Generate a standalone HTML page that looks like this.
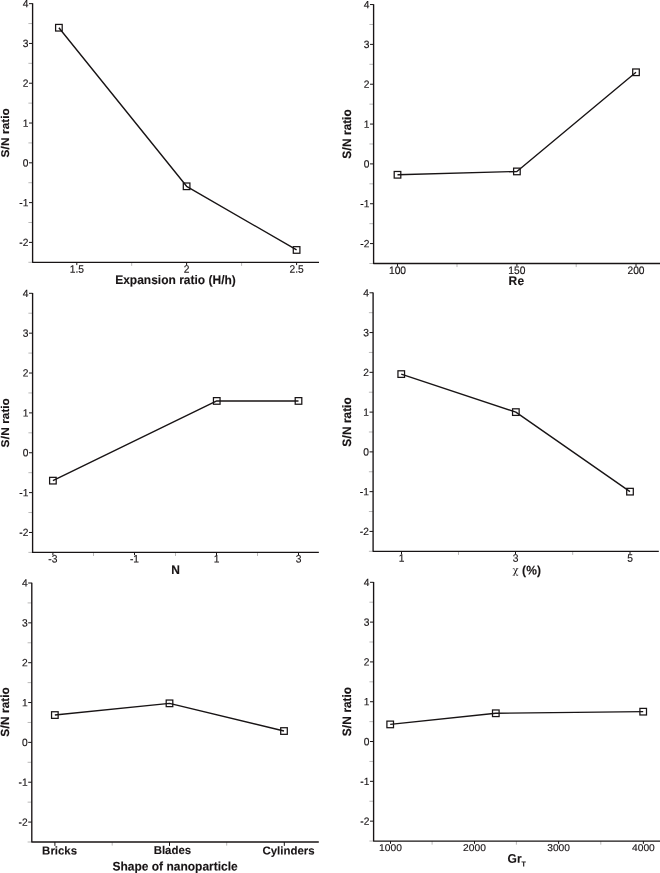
<!DOCTYPE html>
<html><head><meta charset="utf-8"><title>S/N ratio plots</title>
<style>
html,body{margin:0;padding:0;background:#fff;overflow:hidden}
svg{display:block}
text{font-family:"Liberation Sans",Arial,Helvetica,sans-serif;fill:#181415;stroke:#181415;stroke-width:.2px;text-rendering:geometricPrecision}
.t{font-size:10.25px;stroke-width:.15px}
.b{font-size:12px;font-weight:bold;stroke-width:.12px}
.yl{stroke-width:.16px;font-size:11.8px}
.tb{font-size:11.45px;font-weight:bold;stroke-width:.1px}
.ax{stroke:#181415;stroke-width:1.35;fill:none;stroke-linejoin:round}
.mj{stroke:#181415;stroke-width:1;fill:none}
.mn{stroke:#181415;stroke-width:0.5;fill:none;opacity:.6}
.ln{stroke:#181415;stroke-width:1.4;fill:none;stroke-linejoin:round}
.mk{stroke:#181415;stroke-width:1.25;fill:none}
</style></head><body>
<svg width="660" height="873" viewBox="0 0 660 873">
<rect width="660" height="873" fill="#fff"/>
<g>
<path class="ax" d="M32.6 3.35 V262.3 H319"/>
<path class="mj" d="M29 242.4H32.6M29 202.61H32.6M29 162.82H32.6M29 123.03H32.6M29 83.23H32.6M29 43.44H32.6M29 3.65H32.6"/>
<path class="mn" d="M28.4 262.3H32.6M28.4 222.51H32.6M28.4 182.72H32.6M28.4 142.92H32.6M28.4 103.13H32.6M28.4 63.34H32.6M28.4 23.55H32.6"/>
<text class="t" transform="translate(28.4 246) rotate(.03) scale(1 1.025)" text-anchor="end">-2</text>
<text class="t" transform="translate(28.4 206.21) rotate(.03) scale(1 1.025)" text-anchor="end">-1</text>
<text class="t" transform="translate(28.4 166.42) rotate(.03) scale(1 1.025)" text-anchor="end">0</text>
<text class="t" transform="translate(28.4 126.63) rotate(.03) scale(1 1.025)" text-anchor="end">1</text>
<text class="t" transform="translate(28.4 86.83) rotate(.03) scale(1 1.025)" text-anchor="end">2</text>
<text class="t" transform="translate(28.4 47.04) rotate(.03) scale(1 1.025)" text-anchor="end">3</text>
<text class="t" transform="translate(28.4 7.25) rotate(.03) scale(1 1.025)" text-anchor="end">4</text>
<path class="mj" d="M76.8 262.3V265.1M186.6 262.3V265.1M296.6 262.3V265.1"/>
<path class="mn" d="M131.7 262.3V265.9M241.6 262.3V265.9"/>
<text class="t" transform="translate(76.8 272.85) rotate(.03) scale(1 1.06)" text-anchor="middle">1.5</text>
<text class="t" transform="translate(186.6 272.85) rotate(.03) scale(1 1.06)" text-anchor="middle">2</text>
<text class="t" transform="translate(296.6 272.85) rotate(.03) scale(1 1.06)" text-anchor="middle">2.5</text>
<text class="b" transform="translate(175.5 284.1) rotate(.03) scale(1 1.04)" text-anchor="middle">Expansion ratio (H/h)</text>
<text class="b yl" transform="translate(9.45 132.98) rotate(-90) scale(1 0.95)" text-anchor="middle"><tspan letter-spacing=".25">S/N</tspan> ratio</text>
<polyline class="ln" points="58.9,27.72 186.6,186.3 296.6,249.96"/>
<rect class="mk" x="55.6" y="24.42" width="6.6" height="6.6"/>
<rect class="mk" x="183.3" y="183" width="6.6" height="6.6"/>
<rect class="mk" x="293.3" y="246.66" width="6.6" height="6.6"/>
</g>
<g>
<path class="ax" d="M373.6 4.25 V263.5 H660"/>
<path class="mj" d="M370 243.58H373.6M370 203.74H373.6M370 163.9H373.6M370 124.07H373.6M370 84.23H373.6M370 44.39H373.6M370 4.55H373.6"/>
<path class="mn" d="M369.4 263.5H373.6M369.4 223.66H373.6M369.4 183.82H373.6M369.4 143.98H373.6M369.4 104.15H373.6M369.4 64.31H373.6M369.4 24.47H373.6"/>
<text class="t" transform="translate(369.4 247.18) rotate(.03) scale(1 1.025)" text-anchor="end">-2</text>
<text class="t" transform="translate(369.4 207.34) rotate(.03) scale(1 1.025)" text-anchor="end">-1</text>
<text class="t" transform="translate(369.4 167.5) rotate(.03) scale(1 1.025)" text-anchor="end">0</text>
<text class="t" transform="translate(369.4 127.67) rotate(.03) scale(1 1.025)" text-anchor="end">1</text>
<text class="t" transform="translate(369.4 87.83) rotate(.03) scale(1 1.025)" text-anchor="end">2</text>
<text class="t" transform="translate(369.4 47.99) rotate(.03) scale(1 1.025)" text-anchor="end">3</text>
<text class="t" transform="translate(369.4 8.15) rotate(.03) scale(1 1.025)" text-anchor="end">4</text>
<path class="mj" d="M397.5 263.5V266.3M516.9 263.5V266.3M636 263.5V266.3"/>
<path class="mn" d="M457 263.5V267.1M576.2 263.5V267.1"/>
<text class="t" transform="translate(397.5 274.05) rotate(.03) scale(1 1.06)" text-anchor="middle">100</text>
<text class="t" transform="translate(516.9 274.05) rotate(.03) scale(1 1.06)" text-anchor="middle">150</text>
<text class="t" transform="translate(636 274.05) rotate(.03) scale(1 1.06)" text-anchor="middle">200</text>
<text class="b" transform="translate(516.6 285.1) rotate(.03) scale(1 1.04)" text-anchor="middle" letter-spacing="0.5">Re</text>
<text class="b yl" transform="translate(351.25 134.03) rotate(-90) scale(1 1.03)" text-anchor="middle"><tspan letter-spacing=".25">S/N</tspan> ratio</text>
<polyline class="ln" points="397.5,174.78 516.9,171.43 636,72.28"/>
<rect class="mk" x="394.2" y="171.48" width="6.6" height="6.6"/>
<rect class="mk" x="513.6" y="168.13" width="6.6" height="6.6"/>
<rect class="mk" x="632.7" y="68.98" width="6.6" height="6.6"/>
</g>
<g>
<path class="ax" d="M32.6 293 V552.4 H318.85"/>
<path class="mj" d="M29 532.47H32.6M29 492.61H32.6M29 452.75H32.6M29 412.88H32.6M29 373.02H32.6M29 333.16H32.6M29 293.3H32.6"/>
<path class="mn" d="M28.4 552.4H32.6M28.4 512.54H32.6M28.4 472.68H32.6M28.4 432.82H32.6M28.4 392.95H32.6M28.4 353.09H32.6M28.4 313.23H32.6"/>
<text class="t" transform="translate(28.4 536.07) rotate(.03) scale(1 1.025)" text-anchor="end">-2</text>
<text class="t" transform="translate(28.4 496.21) rotate(.03) scale(1 1.025)" text-anchor="end">-1</text>
<text class="t" transform="translate(28.4 456.35) rotate(.03) scale(1 1.025)" text-anchor="end">0</text>
<text class="t" transform="translate(28.4 416.48) rotate(.03) scale(1 1.025)" text-anchor="end">1</text>
<text class="t" transform="translate(28.4 376.62) rotate(.03) scale(1 1.025)" text-anchor="end">2</text>
<text class="t" transform="translate(28.4 336.76) rotate(.03) scale(1 1.025)" text-anchor="end">3</text>
<text class="t" transform="translate(28.4 296.9) rotate(.03) scale(1 1.025)" text-anchor="end">4</text>
<path class="mj" d="M52.9 552.4V555.2M134.5 552.4V555.2M216.5 552.4V555.2M298.5 552.4V555.2"/>
<path class="mn" d="M93.5 552.4V556M175.5 552.4V556M257.5 552.4V556"/>
<text class="t" transform="translate(52.9 562.55) rotate(.03) scale(1 1.06)" text-anchor="middle">-3</text>
<text class="t" transform="translate(134.5 562.55) rotate(.03) scale(1 1.06)" text-anchor="middle">-1</text>
<text class="t" transform="translate(216.5 562.55) rotate(.03) scale(1 1.06)" text-anchor="middle">1</text>
<text class="t" transform="translate(298.5 562.55) rotate(.03) scale(1 1.06)" text-anchor="middle">3</text>
<text class="b" transform="translate(175.5 574) rotate(.03) scale(1 1.04)" text-anchor="middle">N</text>
<text class="b yl" transform="translate(9.45 422.85) rotate(-90) scale(1 0.95)" text-anchor="middle"><tspan letter-spacing=".25">S/N</tspan> ratio</text>
<polyline class="ln" points="52.9,480.65 216.75,400.93 298.5,400.93"/>
<rect class="mk" x="49.6" y="477.35" width="6.6" height="6.6"/>
<rect class="mk" x="213.45" y="397.63" width="6.6" height="6.6"/>
<rect class="mk" x="295.2" y="397.63" width="6.6" height="6.6"/>
</g>
<g>
<path class="ax" d="M373.1 292.5 V551.3 H658.8"/>
<path class="mj" d="M369.5 531.42H373.1M369.5 491.65H373.1M369.5 451.88H373.1M369.5 412.11H373.1M369.5 372.34H373.1M369.5 332.57H373.1M369.5 292.8H373.1"/>
<path class="mn" d="M368.9 551.3H373.1M368.9 511.53H373.1M368.9 471.76H373.1M368.9 431.99H373.1M368.9 392.22H373.1M368.9 352.45H373.1M368.9 312.68H373.1"/>
<text class="t" transform="translate(368.9 535.02) rotate(.03) scale(1 1.025)" text-anchor="end">-2</text>
<text class="t" transform="translate(368.9 495.25) rotate(.03) scale(1 1.025)" text-anchor="end">-1</text>
<text class="t" transform="translate(368.9 455.48) rotate(.03) scale(1 1.025)" text-anchor="end">0</text>
<text class="t" transform="translate(368.9 415.71) rotate(.03) scale(1 1.025)" text-anchor="end">1</text>
<text class="t" transform="translate(368.9 375.94) rotate(.03) scale(1 1.025)" text-anchor="end">2</text>
<text class="t" transform="translate(368.9 336.17) rotate(.03) scale(1 1.025)" text-anchor="end">3</text>
<text class="t" transform="translate(368.9 296.4) rotate(.03) scale(1 1.025)" text-anchor="end">4</text>
<path class="mj" d="M401.5 551.3V554.1M515.5 551.3V554.1M630 551.3V554.1"/>
<path class="mn" d="M458.5 551.3V554.9M572.7 551.3V554.9"/>
<text class="t" transform="translate(401.5 561.85) rotate(.03) scale(1 1.06)" text-anchor="middle">1</text>
<text class="t" transform="translate(515.5 561.85) rotate(.03) scale(1 1.06)" text-anchor="middle">3</text>
<text class="t" transform="translate(630 561.85) rotate(.03) scale(1 1.06)" text-anchor="middle">5</text>
<text class="b" transform="translate(512.4 573.4) rotate(.03)" font-weight="normal" font-family="'DejaVu Serif','Liberation Serif',serif" font-size="10" stroke="none" style="font-family:'DejaVu Serif','Liberation Serif',serif;font-size:10px;font-weight:normal;stroke:none">χ</text>
<text class="b" transform="translate(522 574.5) rotate(.03) scale(1 1.04)" letter-spacing="0.15">(%)</text>
<text class="b yl" transform="translate(351.25 422.05) rotate(-90) scale(1 1.03)" text-anchor="middle"><tspan letter-spacing=".25">S/N</tspan> ratio</text>
<polyline class="ln" points="401.25,374.09 515.85,412.11 630,491.65"/>
<rect class="mk" x="397.95" y="370.79" width="6.6" height="6.6"/>
<rect class="mk" x="512.55" y="408.81" width="6.6" height="6.6"/>
<rect class="mk" x="626.7" y="488.35" width="6.6" height="6.6"/>
</g>
<g>
<path class="ax" d="M31.8 582.7 V842 H318.8"/>
<path class="mj" d="M28.2 822.08H31.8M28.2 782.23H31.8M28.2 742.38H31.8M28.2 702.54H31.8M28.2 662.69H31.8M28.2 622.85H31.8M28.2 583H31.8"/>
<path class="mn" d="M27.6 842H31.8M27.6 802.15H31.8M27.6 762.31H31.8M27.6 722.46H31.8M27.6 682.62H31.8M27.6 642.77H31.8M27.6 602.92H31.8"/>
<text class="t" transform="translate(27.6 825.68) rotate(.03) scale(1 1.025)" text-anchor="end">-2</text>
<text class="t" transform="translate(27.6 785.83) rotate(.03) scale(1 1.025)" text-anchor="end">-1</text>
<text class="t" transform="translate(27.6 745.98) rotate(.03) scale(1 1.025)" text-anchor="end">0</text>
<text class="t" transform="translate(27.6 706.14) rotate(.03) scale(1 1.025)" text-anchor="end">1</text>
<text class="t" transform="translate(27.6 666.29) rotate(.03) scale(1 1.025)" text-anchor="end">2</text>
<text class="t" transform="translate(27.6 626.45) rotate(.03) scale(1 1.025)" text-anchor="end">3</text>
<text class="t" transform="translate(27.6 586.6) rotate(.03) scale(1 1.025)" text-anchor="end">4</text>
<path class="mj" d="M54.9 842V845.9M169.5 842V845.9M284.3 842V845.9"/>
<path class="mn" d="M112.2 842V845.6M226.7 842V845.6"/>
<text class="tb" transform="translate(59.6 854.6) rotate(.03)" text-anchor="middle">Bricks</text>
<text class="tb" transform="translate(172.4 853.95) rotate(.03)" text-anchor="middle">Blades</text>
<text class="tb" transform="translate(288.5 854.45) rotate(.03)" text-anchor="middle">Cylinders</text>
<text class="b" transform="translate(175.1 870.5) rotate(.03) scale(1 1.04)" text-anchor="middle">Shape of nanoparticle</text>
<text class="b yl" transform="translate(9.45 712) rotate(-90) scale(1 1)" text-anchor="middle"><tspan letter-spacing=".25">S/N</tspan> ratio</text>
<polyline class="ln" points="54.85,715.05 169.5,703.34 284,731.03"/>
<rect class="mk" x="51.55" y="711.75" width="6.6" height="6.6"/>
<rect class="mk" x="166.2" y="700.04" width="6.6" height="6.6"/>
<rect class="mk" x="280.7" y="727.73" width="6.6" height="6.6"/>
</g>
<g>
<path class="ax" d="M373.6 582 V841.05 H660"/>
<path class="mj" d="M370 821.15H373.6M370 781.34H373.6M370 741.53H373.6M370 701.72H373.6M370 661.92H373.6M370 622.11H373.6M370 582.3H373.6"/>
<path class="mn" d="M369.4 841.05H373.6M369.4 801.24H373.6M369.4 761.43H373.6M369.4 721.63H373.6M369.4 681.82H373.6M369.4 642.01H373.6M369.4 602.2H373.6"/>
<text class="t" transform="translate(369.4 824.75) rotate(.03) scale(1 1.025)" text-anchor="end">-2</text>
<text class="t" transform="translate(369.4 784.94) rotate(.03) scale(1 1.025)" text-anchor="end">-1</text>
<text class="t" transform="translate(369.4 745.13) rotate(.03) scale(1 1.025)" text-anchor="end">0</text>
<text class="t" transform="translate(369.4 705.32) rotate(.03) scale(1 1.025)" text-anchor="end">1</text>
<text class="t" transform="translate(369.4 665.52) rotate(.03) scale(1 1.025)" text-anchor="end">2</text>
<text class="t" transform="translate(369.4 625.71) rotate(.03) scale(1 1.025)" text-anchor="end">3</text>
<text class="t" transform="translate(369.4 585.9) rotate(.03) scale(1 1.025)" text-anchor="end">4</text>
<path class="mj" d="M390.5 841.05V843.85M474.5 841.05V843.85M558.6 841.05V843.85M643.4 841.05V843.85"/>
<path class="mn" d="M432.1 841.05V844.65M516.4 841.05V844.65M600.8 841.05V844.65"/>
<text class="t" transform="translate(390.5 850.9) rotate(.03) scale(1 0.96)" text-anchor="middle">1000</text>
<text class="t" transform="translate(474.5 850.9) rotate(.03) scale(1 0.96)" text-anchor="middle">2000</text>
<text class="t" transform="translate(558.6 850.9) rotate(.03) scale(1 0.96)" text-anchor="middle">3000</text>
<text class="t" transform="translate(643.4 850.9) rotate(.03) scale(1 0.96)" text-anchor="middle">4000</text>
<text class="b" transform="translate(507.6 862.85) rotate(.03) scale(1 1.04)">Gr<tspan font-size="7" dy="3.5">T</tspan></text>
<text class="b yl" transform="translate(351.25 711.67) rotate(-90) scale(1 1.03)" text-anchor="middle"><tspan letter-spacing=".25">S/N</tspan> ratio</text>
<polyline class="ln" points="390.2,724.41 495.8,713.27 643.2,711.67"/>
<rect class="mk" x="386.9" y="721.11" width="6.6" height="6.6"/>
<rect class="mk" x="492.5" y="709.97" width="6.6" height="6.6"/>
<rect class="mk" x="639.9" y="708.38" width="6.6" height="6.6"/>
</g>
</svg>
</body></html>
